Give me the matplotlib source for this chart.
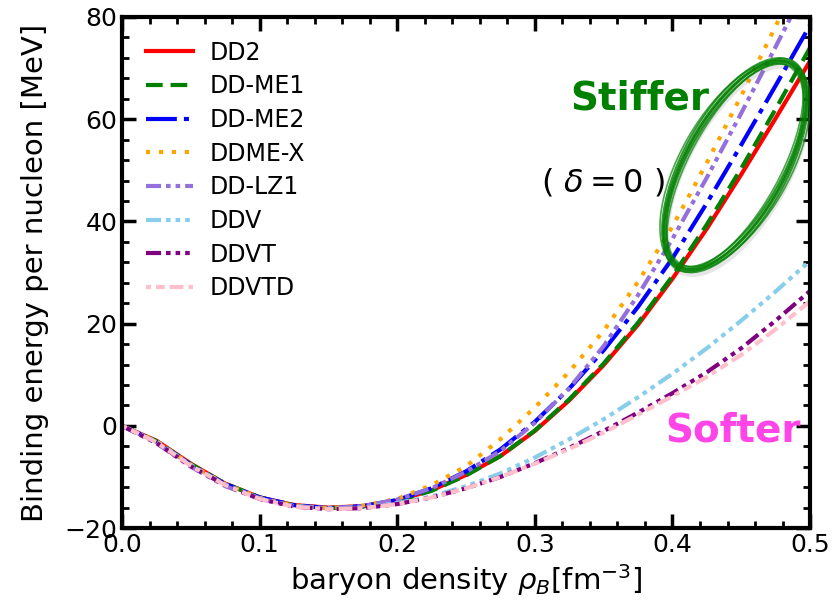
import matplotlib
matplotlib.use("Agg")
import matplotlib.pyplot as plt
from matplotlib.patches import Ellipse
from matplotlib.ticker import MultipleLocator, AutoMinorLocator
from matplotlib.transforms import ScaledTranslation

# baryon density grid [fm^-3]
rho = [0.0, 0.025, 0.05, 0.075, 0.1, 0.125, 0.15, 0.175, 0.2, 0.225, 0.25,
       0.275, 0.3, 0.325, 0.35, 0.375, 0.4, 0.425, 0.45, 0.475, 0.5]

# binding energy per nucleon [MeV], symmetric matter
DD2 = [0, -2.9, -7.4, -11.3, -14.0, -15.5, -16.0, -15.7, -14.6, -12.6, -9.6,
       -5.9, -1.0, 5.0, 11.9, 19.8, 28.8, 38.6, 49.2, 60.2, 71.4]
DDME1 = [0, -3.0, -7.5, -11.3, -14.0, -15.6, -16.1, -15.8, -14.7, -12.7, -9.7,
         -5.9, -0.9, 5.2, 12.2, 20.2, 29.3, 39.4, 50.4, 62.0, 74.0]
DDME2 = [0, -3.1, -7.6, -11.4, -14.0, -15.5, -16.1, -15.7, -14.5, -12.2, -8.9,
         -4.6, 0.8, 7.3, 14.8, 23.3, 32.8, 43.6, 55.0, 66.6, 78.4]
DDMEX = [0, -3.0, -7.6, -11.4, -14.1, -15.6, -16.1, -15.6, -14.3, -11.6, -7.9,
         -2.6, 3.6, 10.6, 18.6, 28.2, 39.0, 51.5, 64.6, 78.2, 92.2]
DDLZ1 = [0, -3.4, -8.0, -11.8, -14.3, -15.7, -16.1, -15.7, -14.4, -12.2, -9.0,
         -4.9, 0.6, 7.4, 15.6, 25.6, 36.6, 48.6, 61.2, 74.2, 87.4]
DDV = [0, -3.1, -7.7, -11.5, -14.2, -15.7, -16.2, -16.0, -15.1, -13.8, -11.8,
       -9.3, -6.2, -2.6, 1.3, 5.6, 10.2, 15.2, 20.6, 26.3, 32.3]
DDVT = [0, -3.3, -7.9, -11.6, -14.3, -15.8, -16.3, -16.1, -15.3, -14.0, -12.2,
        -10.0, -7.3, -4.3, -1.0, 2.6, 6.4, 10.5, 15.2, 20.6, 26.4]
DDVTD = [0, -3.2, -7.8, -11.6, -14.3, -15.8, -16.3, -16.1, -15.3, -14.0, -12.2,
         -10.0, -7.4, -4.5, -1.3, 2.2, 5.8, 9.6, 13.9, 18.9, 24.4]

fig = plt.figure(figsize=(8.36, 6.07), dpi=100)
ax = fig.add_axes([0.146, 0.130, 0.823, 0.842])

lw = 3
ax.plot(rho, DD2, color="red", lw=lw, ls="-", label="DD2")
ax.plot(rho, DDME1, color="green", lw=lw, ls=(0, (4.0, 1.9)), label="DD-ME1")
ax.plot(rho, DDME2, color="blue", lw=lw, ls=(0, (7.4, 1.7, 1.2, 1.7)), label="DD-ME2")
ax.plot(rho, DDMEX, color="orange", lw=lw, ls=(0, (1.0, 2.1)), label="DDME-X")
ax.plot(rho, DDLZ1, color="mediumpurple", lw=lw,
        ls=(0, (3.6, 1.2, 1.1, 1.2, 1.1, 1.2)), label="DD-LZ1")
ax.plot(rho, DDV, color="skyblue", lw=lw,
        ls=(0, (3.6, 1.2, 1.1, 1.2, 1.1, 1.2, 1.1, 1.2)), label="DDV")
ax.plot(rho, DDVT, color="purple", lw=lw,
        ls=(0, (3.6, 1.2, 1.1, 1.2, 1.1, 1.2, 1.1, 1.2)), label="DDVT")
ax.plot(rho, DDVTD, color="pink", lw=lw,
        ls=(0, (1.2, 1.2, 2.1, 1.2, 3.3, 1.2)), label="DDVTD")

ax.set_xlim(0, 0.5)
ax.set_ylim(-20, 80)
ax.xaxis.set_major_locator(MultipleLocator(0.1))
ax.xaxis.set_minor_locator(AutoMinorLocator(5))
ax.yaxis.set_major_locator(MultipleLocator(20))
ax.yaxis.set_minor_locator(AutoMinorLocator(5))
ax.tick_params(which="both", direction="in", top=True, right=True, labelsize=18)
ax.tick_params(which="major", length=10, width=2.5)
ax.tick_params(which="minor", length=5, width=2)
for sp in ax.spines.values():
    sp.set_linewidth(3)

ax.set_xlabel(r"baryon density $\rho_B$[fm$^{-3}$]", fontsize=21)
ax.set_ylabel("Binding energy per nucleon [MeV]", fontsize=21, labelpad=11)

ax.legend(loc="upper left", frameon=False, fontsize=17, handlelength=2.0,
          handletextpad=0.7, labelspacing=0.41, borderaxespad=0.6)

# hand drawn ring round the stiff curves
trans = fig.dpi_scale_trans + ScaledTranslation(0.4455, 51.0, ax.transData)
shadow = fig.dpi_scale_trans + ScaledTranslation(0.447, 50.2, ax.transData)
ax.add_patch(Ellipse((0, 0), 2.32, 1.0, angle=61, transform=shadow, fill=False,
                     ec="grey", lw=5, alpha=0.2, zorder=9))
for w, h, ang, lwid, al in [(2.32, 1.0, 61, 2.0, 0.9), (2.27, 0.94, 60.5, 1.5, 0.8),
                           (2.37, 1.05, 61.5, 1.5, 0.8), (2.30, 0.90, 61.2, 1.2, 0.7),
                           (2.35, 1.09, 60.2, 1.2, 0.7), (2.25, 0.98, 61.8, 1.0, 0.6),
                           (2.39, 0.96, 60.8, 1.0, 0.6)]:
    ax.add_patch(Ellipse((0, 0), w, h, angle=ang, transform=trans, fill=False,
                         ec="green", lw=lwid, alpha=al, zorder=10))

ax.text(0.3765, 64, "Stiffer", color="green", fontsize=28, fontweight="bold",
        ha="center", va="center")
ax.text(0.3496, 47.7, r"( $\delta=0$ )", color="black", fontsize=23,
        ha="center", va="center")
ax.text(0.444, -1.0, "Softer", color="#ff44e8", fontsize=28, fontweight="bold",
        ha="center", va="center")

fig.savefig("out.png", dpi=100)
